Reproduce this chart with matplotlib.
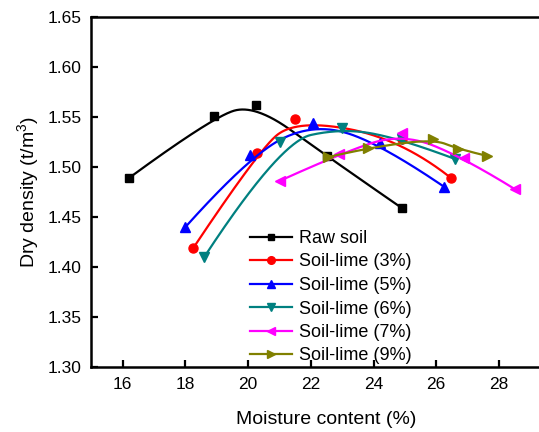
import numpy as np
import matplotlib.pyplot as plt
from matplotlib.lines import Line2D

plt.rcParams['font.family'] = ['Liberation Sans', 'DejaVu Sans']
plt.rcParams['mathtext.fontset'] = 'custom'
plt.rcParams['mathtext.rm'] = 'Liberation Sans'

# moisture content (%) and dry density (t/m3) for each mix
raw_x = [16.2, 18.9, 20.25, 22.5, 24.9]
raw_y = [1.489, 1.551, 1.562, 1.511, 1.459]
lime3_x = [18.25, 20.27, 21.5, 24.9, 26.47]
lime3_y = [1.419, 1.514, 1.548, 1.528, 1.489]
lime5_x = [18.0, 20.06, 22.08, 24.2, 26.26]
lime5_y = [1.440, 1.512, 1.544, 1.524, 1.480]
lime6_x = [18.6, 21.0, 23.0, 24.9, 26.6]
lime6_y = [1.410, 1.525, 1.539, 1.528, 1.508]
lime7_x = [21.0, 22.9, 24.9, 26.9, 28.5]
lime7_y = [1.486, 1.513, 1.534, 1.509, 1.478]
lime9_x = [22.56, 23.81, 25.9, 26.7, 27.63]
lime9_y = [1.510, 1.519, 1.528, 1.518, 1.511]

labels = ["Raw soil", "Soil-lime (3%)", "Soil-lime (5%)", "Soil-lime (6%)",
          "Soil-lime (7%)", "Soil-lime (9%)"]
xs_all = [raw_x, lime3_x, lime5_x, lime6_x, lime7_x, lime9_x]
ys_all = [raw_y, lime3_y, lime5_y, lime6_y, lime7_y, lime9_y]
colors = ["black", "red", "blue", "#008080", "#FF00FF", "#808000"]
markers = ["s", "o", "^", "v", "<", ">"]
msizes = [6, 6.5, 7, 7, 7, 7]


def bspline(xs, ys, k=2, num=300):
    # clamped B-spline using the measured points as control points
    P = np.column_stack([xs, ys])
    n = len(P)
    k = min(k, n - 1)
    inner = np.linspace(0, 1, n - k + 1)[1:-1]
    t = np.concatenate([np.zeros(k + 1), inner, np.ones(k + 1)])
    u = np.linspace(0, 1, num)
    N = np.zeros((num, len(t) - 1))
    for i in range(len(t) - 1):
        N[:, i] = (t[i] <= u) & (u < t[i + 1])
    N[-1, n - 1] = 1.0
    for p in range(1, k + 1):
        Nn = np.zeros((num, len(t) - 1 - p))
        for i in range(len(t) - 1 - p):
            d1 = t[i + p] - t[i]
            d2 = t[i + p + 1] - t[i + 1]
            a = (u - t[i]) / d1 * N[:, i] if d1 > 0 else 0
            b = (t[i + p + 1] - u) / d2 * N[:, i + 1] if d2 > 0 else 0
            Nn[:, i] = a + b
        N = Nn
    C = N @ P
    return C[:, 0], C[:, 1]


fig = plt.figure(figsize=(5.39, 4.32), dpi=100)
ax = fig.add_axes([0.1696, 0.1505, 0.8724, 0.8102])

handles = []
for x, y, c, m, ms, lab in zip(xs_all, ys_all, colors, markers, msizes, labels):
    cx, cy = bspline(x, y)
    ax.plot(cx, cy, color=c, lw=1.6)
    ax.plot(x, y, linestyle="none", marker=m, color=c, markersize=ms)
    handles.append(Line2D([], [], color=c, lw=1.6, marker=m, markersize=ms - 1))

ax.set_xlim(15, 30)
ax.set_ylim(1.30, 1.65)
ax.set_xticks([16, 18, 20, 22, 24, 26, 28])
ax.set_yticks(np.arange(1.30, 1.651, 0.05))
ax.set_yticklabels([f"{v:.2f}" for v in np.arange(1.30, 1.651, 0.05)])
ax.tick_params(direction="in", length=5, width=1.6, labelsize=12.5, pad=7)
for s in ax.spines.values():
    s.set_linewidth(1.8)

ax.set_xlabel("Moisture content (%)", fontsize=14, labelpad=14)
ax.set_ylabel("Dry density (t/m$^3$)", fontsize=14, labelpad=4)

ax.legend(handles, labels, loc="upper left", frameon=False, fontsize=13,
          bbox_to_anchor=(250 / 539, 1 - 230 / 432), bbox_transform=fig.transFigure,
          borderpad=0, borderaxespad=0, handlelength=2.3, handletextpad=0.4,
          labelspacing=0.36)

plt.savefig("out.png", dpi=100)
